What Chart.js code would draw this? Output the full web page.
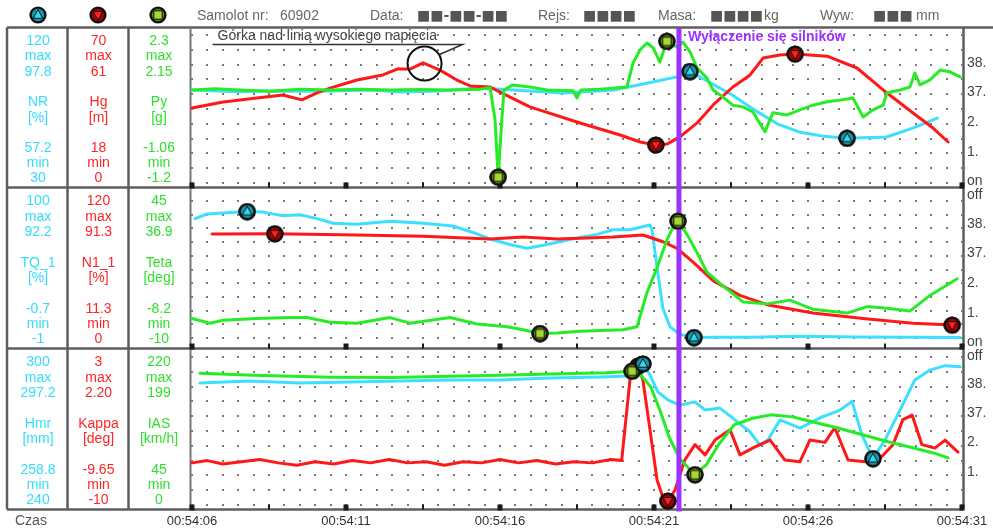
<!DOCTYPE html>
<html>
<head>
<meta charset="utf-8">
<script src="https://cdn.jsdelivr.net/npm/chart.js@4.4.0/dist/chart.umd.min.js"></script>
<style>
  body { margin: 0; background: #fff; font-family: "Liberation Sans", Arial, sans-serif; }
  #wrap { position: relative; width: 993px; height: 530px; overflow: hidden; }
  #wrap canvas { position: absolute; }
  .t { position: absolute; white-space: nowrap; font-size: 14px; line-height: 15px; }
  .c { width: 60px; text-align: center; }
  .blk { font-family: "DejaVu Sans", sans-serif; font-weight: bold; color: #000; }
</style>
</head>
<body>
<div id="wrap">
  <canvas id="frame" width="993" height="530" style="left:0;top:0"></canvas>
</div>
<script>
// time axis: seconds after 00:54:06
const timeLabels = ["00:54:06", "00:54:11", "00:54:16", "00:54:21", "00:54:26", "00:54:31"];
const engineOffT = 15.81;
const engineOffNote = "Wyłączenie się silników";
const hillNote = "Górka nad linią wysokiego napięcia";
const hillMark = [7.55, 56.5];

// left table texts, three per panel (cyan, red, green)
const seriesLabels = ["NR", "Hg", "Py", "TQ_1", "N1_1", "Teta", "Hmr", "Kappa", "IAS"];
const seriesUnits = ["[%]", "[m]", "[g]", "[%]", "[%]", "[deg]", "[mm]", "[deg]", "[km/h]"];
const scaleMax = [120, 70, 2.3, 100, 120, 45, 300, 3, 220];
const scaleMin = [30, 0, -1.2, -1, 0, -10, 240, -10, 0];
const peakMax = ["97.8", "61", "2.15", "92.2", "91.3", "36.9", "297.2", "2.20", "199"];
const peakMin = ["57.2", "18", "-1.06", "-0.7", "11.3", "-8.2", "258.8", "-9.65", "45"];
const rightLabels = ["38.", "37.", "2.", "1."];

// panel 1
const nrPts = [[0,86.5],[1.5,85.5],[2.2,86.0],[3.5,85.8],[4.5,86.0],[5.8,86.5],[6.8,85.3],[8.0,86.0],[9.35,87.8],[10.4,86.5],[12.05,84.7],[13.7,86.5],[14.8,90.8],[15.85,95.0],[16.17,97.8],[16.9,90.2],[17.5,84.0],[18.3,74.0],[19.0,66.0],[19.75,60.8],[20.5,58.5],[21.27,57.2],[22.55,58.0],[23.4,63.4],[24.2,69.5]];
const hgPts = [[0,35.5],[1.01,38.3],[2.11,40.2],[2.95,41.6],[3.57,39.3],[4.06,42.6],[4.48,44.9],[5.36,48.7],[6.2,51.1],[6.66,53.9],[7.08,53.9],[7.5,56.8],[8.05,53.4],[8.6,48.7],[9.03,45.9],[9.68,45.4],[10.0,43.0],[10.97,36.0],[12.6,28.4],[13.9,22.7],[14.55,19.4],[15.06,18.0],[15.42,18.4],[15.84,21.8],[16.4,28.4],[16.92,36.9],[17.56,45.4],[18.12,51.1],[18.54,59.1],[19.09,60.5],[19.58,61.0],[20.62,60.0],[21.59,54.4],[22.44,44.0],[23.41,33.1],[24.06,26.0],[24.55,19.4]];
const pyPts = [[0,1.0],[0.75,1.03],[1.56,1.0],[2.53,0.97],[3.51,1.02],[4.48,1.0],[5.45,1.02],[6.43,1.0],[7.4,1.01],[8.38,1.0],[9.35,1.02],[9.68,1.05],[9.84,0.29],[9.94,-1.06],[10.06,0.29],[10.13,1.0],[10.42,1.12],[10.97,1.07],[11.53,1.0],[12.37,0.98],[12.5,0.81],[12.63,1.0],[13.25,1.02],[14.12,1.07],[14.32,1.64],[14.55,1.95],[14.77,2.11],[14.97,2.0],[15.19,1.66],[15.42,2.15],[15.75,2.02],[15.94,2.13],[16.17,1.9],[16.4,1.52],[16.72,1.28],[16.92,1.0],[17.24,0.83],[17.56,0.64],[17.89,0.6],[18.21,0.48],[18.6,0.01],[18.86,0.46],[19.32,0.41],[19.74,0.53],[20.16,0.64],[20.62,0.72],[21.04,0.76],[21.46,0.81],[21.79,0.36],[22.11,0.53],[22.44,0.64],[22.56,0.93],[22.99,1.0],[23.31,1.07],[23.47,1.4],[23.64,1.12],[23.96,1.24],[24.29,1.47],[24.61,1.43],[24.94,1.31]];

// panel 2
const tqPts = [[0.1,87.0],[0.49,90.4],[1.01,91.1],[1.79,92.2],[2.31,91.8],[2.95,89.1],[3.51,89.8],[4.06,87.0],[4.58,83.6],[5.36,82.9],[6.43,85.0],[7.5,83.6],[8.47,81.6],[9.12,76.8],[9.68,72.0],[10.32,67.9],[10.88,65.2],[11.53,67.9],[12.18,71.3],[12.82,74.0],[13.15,75.4],[13.67,78.8],[14.22,78.8],[14.87,82.3],[14.94,78.2],[15.1,50.9],[15.29,20.8],[15.52,7.2],[15.84,1.7],[16.3,-0.7],[16.92,-0.5],[18.12,-0.4],[19.74,0.3],[21.59,-0.2],[23.41,-0.5],[24.94,-0.6]];
const n1Pts = [[0.65,91.0],[2.69,91.3],[5.36,90.2],[7.5,89.2],[9.68,86.8],[10.75,88.4],[11.85,86.8],[12.82,87.6],[13.67,88.4],[14.64,90.2],[15.29,84.3],[15.75,78.6],[16.27,66.5],[16.92,50.3],[17.79,37.3],[18.67,29.2],[20.16,21.9],[21.79,17.0],[23.41,13.0],[24.68,11.3]];
const tetaPts = [[0,-2.2],[0.58,-4.05],[1.01,-2.9],[2.11,-2.2],[3.18,-1.8],[3.73,-1.8],[4.48,-3.7],[5.36,-4.05],[6.43,-1.8],[7.08,-4.05],[8.38,-1.8],[9.25,-4.4],[10.23,-5.5],[10.75,-6.7],[11.3,-8.2],[11.85,-8.0],[12.6,-7.3],[13.99,-6.7],[14.45,-5.5],[14.77,8.2],[15.1,18.2],[15.42,29.4],[15.62,34.5],[15.78,36.9],[16.07,31.6],[16.4,24.2],[16.72,16.4],[17.14,11.9],[17.89,4.5],[18.67,3.7],[19.42,5.2],[20.16,1.5],[21.27,0.0],[21.92,2.6],[22.56,1.9],[23.31,0.8],[23.96,7.1],[24.84,13.8]];

// panel 3
const hmrPts = [[0.26,289.5],[1.88,290.3],[3.51,289.5],[5.13,289.9],[6.75,290.3],[8.38,290.7],[10.0,290.7],[11.62,291.5],[13.25,291.9],[14.22,292.3],[14.48,294.7],[14.64,297.2],[14.87,292.7],[15.13,285.8],[15.45,282.6],[15.84,280.5],[16.33,281.8],[16.66,278.5],[17.14,279.3],[17.63,274.5],[18.12,269.6],[18.44,264.3],[18.7,266.4],[19.09,274.5],[19.74,271.2],[20.39,275.3],[21.04,278.5],[21.43,282.0],[21.75,268.4],[22.11,258.8],[22.5,266.4],[22.99,278.5],[23.47,290.7],[23.96,294.7],[24.45,296.5],[24.94,296.0]];
const kappaPts = [[0,-6.3],[0.5,-6.1],[1.0,-6.4],[1.6,-6.2],[2.2,-6.0],[2.8,-6.3],[3.4,-6.5],[4.0,-6.2],[4.6,-6.4],[5.2,-6.1],[5.8,-6.3],[6.4,-6.0],[7.0,-6.3],[7.6,-6.2],[8.2,-6.5],[8.8,-6.2],[9.4,-6.3],[10.0,-6.0],[10.6,-6.3],[11.2,-6.1],[11.8,-6.4],[12.4,-6.2],[13.0,-6.3],[13.6,-6.0],[13.95,-6.1],[14.22,1.0],[14.38,2.12],[14.48,2.20],[14.64,0.98],[14.87,-3.4],[15.1,-7.8],[15.26,-9.1],[15.45,-9.65],[15.68,-8.7],[16.0,-6.05],[16.33,-4.7],[16.66,-5.6],[16.98,-4.3],[17.47,-3.4],[17.79,-5.6],[18.28,-4.9],[18.77,-4.3],[19.25,-6.05],[19.74,-6.2],[20.06,-4.3],[20.55,-4.5],[20.87,-3.2],[21.3,-6.05],[21.85,-6.2],[22.34,-5.9],[22.76,-4.7],[23.08,-2.5],[23.38,-2.1],[23.7,-4.7],[24.12,-5.0],[24.45,-4.3],[24.87,-5.35]];
const iasPts = [[0.26,196],[2.0,193],[4.5,190],[6.5,189.5],[8.0,191],[10.0,193],[12.0,195],[13.5,196.5],[14.29,199],[14.6,192],[14.9,175],[15.2,140],[15.5,100],[15.85,68],[16.33,45],[16.7,60],[17.1,90],[17.6,119],[18.2,129],[18.8,134],[19.5,131],[20.2,123],[21.0,114],[21.8,104],[22.6,94],[23.4,85],[24.1,77],[24.55,70]];

const CYAN = "#3ddfff", RED = "#ff1818", GREEN = "#26ec26";
const textColors = ["#33dcff", "#ff2424", "#2fe02f"];

// round marker icons (black ring + coloured symbol)
function makeMarker(fill, dark, shape) {
  const c = document.createElement("canvas");
  c.width = c.height = 18;
  const m = c.getContext("2d");
  m.fillStyle = "#111";
  m.beginPath(); m.arc(9, 9, 8.6, 0, Math.PI * 2); m.fill();
  m.fillStyle = dark;
  m.beginPath(); m.arc(9, 9, 6.2, 0, Math.PI * 2); m.fill();
  m.fillStyle = fill; m.strokeStyle = "#111"; m.lineWidth = 1;
  m.beginPath();
  if (shape === "up") { m.moveTo(9, 3.6); m.lineTo(13.8, 12.3); m.lineTo(4.2, 12.3); }
  else if (shape === "down") { m.moveTo(4.2, 5.6); m.lineTo(13.8, 5.6); m.lineTo(9, 14.3); }
  else { m.rect(4.8, 4.8, 8.4, 8.4); }
  m.closePath(); m.fill(); m.stroke();
  return c;
}
const markers = {
  up: makeMarker("#38d8f2", "#1798aa", "up"),
  down: makeMarker("#ff2020", "#a80000", "down"),
  sq: makeMarker("#a6d834", "#5f8c14", "sq")
};

// frame, header icons
const g = document.getElementById("frame").getContext("2d");
function ln(x1, y1, x2, y2) { g.beginPath(); g.moveTo(x1, y1); g.lineTo(x2, y2); g.stroke(); }
g.strokeStyle = "#5e5e5e"; g.lineWidth = 2.5;
ln(7, 27.5, 993, 27.5);
[7, 67.5, 128.5].forEach(x => ln(x, 27.5, x, 509.5));
ln(963.5, 27.5, 963.5, 509.5);
[187.5, 348.5, 509.5].forEach(y => ln(7, y, 963.5, y));
g.lineWidth = 2; g.strokeStyle = "#777";
ln(190.5, 27.5, 190.5, 509.5);
g.drawImage(markers.up, 29, 6);
g.drawImage(markers.down, 89, 6);
g.drawImage(markers.sq, 149, 6);

const wrap = document.getElementById("wrap");
function txt(s, x, y, cls, color) {
  const d = document.createElement("div");
  d.className = "t " + (cls || "");
  d.textContent = s;
  d.style.left = x + "px";
  d.style.top = (y - 7.5) + "px";
  d.style.color = color || "#555";
  wrap.appendChild(d);
}

// header
txt("Samolot nr:", 197, 15, "", "#666");
txt("60902", 280, 15, "", "#666");
txt("Data:", 370, 15, "", "#666");
txt("■■-■■-■■", 417, 15, "blk");
txt("Rejs:", 538, 15, "", "#666");
txt("■■■■", 583, 15, "blk");
txt("Masa:", 658, 15, "", "#666");
txt("■■■■", 710, 15, "blk");
txt("kg", 764, 15, "", "#666");
txt("Wyw:", 820, 15, "", "#666");
txt("■■■", 873, 15, "blk");
txt("mm", 916, 15, "", "#666");
txt("Czas", 15, 520, "", "#555");

// left table
const rowY = [40, 55.5, 71, 101.5, 117, 147.5, 162.5, 177.5];
for (let p = 0; p < 3; p++) {
  for (let c = 0; c < 3; c++) {
    const k = p * 3 + c;
    const lines = [String(scaleMax[k]), "max", peakMax[k], seriesLabels[k], seriesUnits[k], peakMin[k], "min", String(scaleMin[k])];
    lines.forEach((s, r) => txt(s, 8 + c * 60.5, rowY[r] + p * 160.8, "c", textColors[c]));
  }
}

// right column
const rightY = [[62, 91.5, 121, 151], [223, 252, 282, 312], [383, 412, 441, 471]];
rightY.forEach(ys => ys.forEach((y, i) => txt(rightLabels[i], 967, y, "", "#444")));
txt("on", 967, 180.5, "", "#444");
txt("off", 967, 194.5, "", "#444");
txt("on", 967, 341, "", "#444");
txt("off", 967, 355.5, "", "#444");

// per-panel drawing: dot grid, time marks, shutdown line, notes, markers on top
const deco = {
  id: "deco",
  beforeDatasetsDraw(chart, args, o) {
    const { ctx, chartArea: a, scales: { x } } = chart;
    ctx.save();
    ctx.fillStyle = "#7a7a7a";
    for (let i = 0; i <= 50; i++) {
      const px = Math.round(x.getPixelForValue(i * 0.5));
      for (let j = 0; j <= 10; j++) {
        const py = Math.round(a.top + j * (a.bottom - a.top) / 10);
        ctx.fillRect(px - 1, py - 1, 2, 2);
      }
    }
    ctx.fillStyle = "#1a1a1a";
    for (let t = 0; t <= 25; t += 2.5) {
      const px = x.getPixelForValue(t);
      if (t % 5 === 0) ctx.fillRect(px - 2.5, o.border - 5, 5, 6);
      else ctx.fillRect(px - 1, o.border - 5, 2, 5);
    }
    ctx.restore();
  },
  afterDatasetsDraw(chart, args, o) {
    const { ctx, scales: { x } } = chart;
    const px = x.getPixelForValue(engineOffT);
    ctx.save();
    ctx.fillStyle = "#9b32ff";
    ctx.fillRect(px - 2.5, 0, 5, o.border + 2);
    if (o.notes) {
      ctx.font = 'bold 14px "Liberation Sans", Arial, sans-serif';
      ctx.textBaseline = "middle";
      ctx.fillText(engineOffNote, px + 9, 9);
      const cx = x.getPixelForValue(hillMark[0]);
      const cy = chart.scales.y1.getPixelForValue(hillMark[1]);
      ctx.strokeStyle = "#111"; ctx.lineWidth = 2;
      ctx.beginPath(); ctx.arc(cx, cy, 17, 0, Math.PI * 2); ctx.stroke();
      ctx.font = '14px "Liberation Sans", Arial, sans-serif';
      ctx.fillStyle = "#444";
      ctx.fillText(hillNote, cx - 207, cy - 27);
      ctx.strokeStyle = "#333"; ctx.lineWidth = 1.5;
      ctx.beginPath(); ctx.moveTo(cx - 212, cy - 19); ctx.lineTo(cx + 38, cy - 19); ctx.lineTo(cx + 15, cy - 9); ctx.stroke();
    }
    if (o.times) {
      ctx.font = '13px "Liberation Sans", Arial, sans-serif';
      ctx.fillStyle = "#333"; ctx.textAlign = "center"; ctx.textBaseline = "middle";
      timeLabels.forEach((s, i) => ctx.fillText(s, x.getPixelForValue(i * 5), o.border + 12));
    }
    ctx.restore();
    [1, 0, 2].forEach(i => chart.getDatasetMeta(i).data.forEach(el => el.draw(ctx)));
  }
};

function peakRadii(pts) {
  const v = pts.map(p => p[1]);
  const r = v.map(() => 0);
  r[v.indexOf(Math.max(...v))] = 9;
  r[v.indexOf(Math.min(...v))] = 9;
  return r;
}

const panels = [
  { top: 28, h: 161, padB: 6, notes: true, series: [[pyPts, GREEN, "sq", 2], [hgPts, RED, "down", 1], [nrPts, CYAN, "up", 0]] },
  { top: 189, h: 161, padB: 6, series: [[tetaPts, GREEN, "sq", 5], [n1Pts, RED, "down", 4], [tqPts, CYAN, "up", 3]] },
  { top: 350, h: 180, padB: 25, times: true, series: [[iasPts, GREEN, "sq", 8], [kappaPts, RED, "down", 7], [hmrPts, CYAN, "up", 6]] }
];

panels.forEach(p => {
  const cv = document.createElement("canvas");
  cv.width = 843; cv.height = p.h;
  cv.style.left = "150px"; cv.style.top = p.top + "px";
  wrap.appendChild(cv);
  const scales = { x: { type: "linear", display: false, min: 0, max: 25 } };
  p.series.forEach((s, i) => {
    scales["y" + i] = { type: "linear", display: false, min: scaleMin[s[3]], max: scaleMax[s[3]] };
  });
  new Chart(cv, {
    type: "line",
    data: {
      datasets: p.series.map((s, i) => ({
        data: s[0].map(([x, y]) => ({ x, y })),
        yAxisID: "y" + i,
        borderColor: s[1],
        borderWidth: 3,
        borderJoinStyle: "round",
        borderCapStyle: "round",
        tension: 0,
        pointStyle: markers[s[2]],
        pointRadius: peakRadii(s[0]),
        pointHoverRadius: 0,
        clip: false
      }))
    },
    options: {
      responsive: false,
      animation: false,
      events: [],
      layout: { padding: { left: 42, right: 31, top: 7, bottom: p.padB } },
      plugins: {
        legend: { display: false },
        tooltip: { enabled: false },
        deco: { border: 159.5, notes: !!p.notes, times: !!p.times }
      },
      scales
    },
    plugins: [deco]
  });
});
</script>
</body>
</html>
